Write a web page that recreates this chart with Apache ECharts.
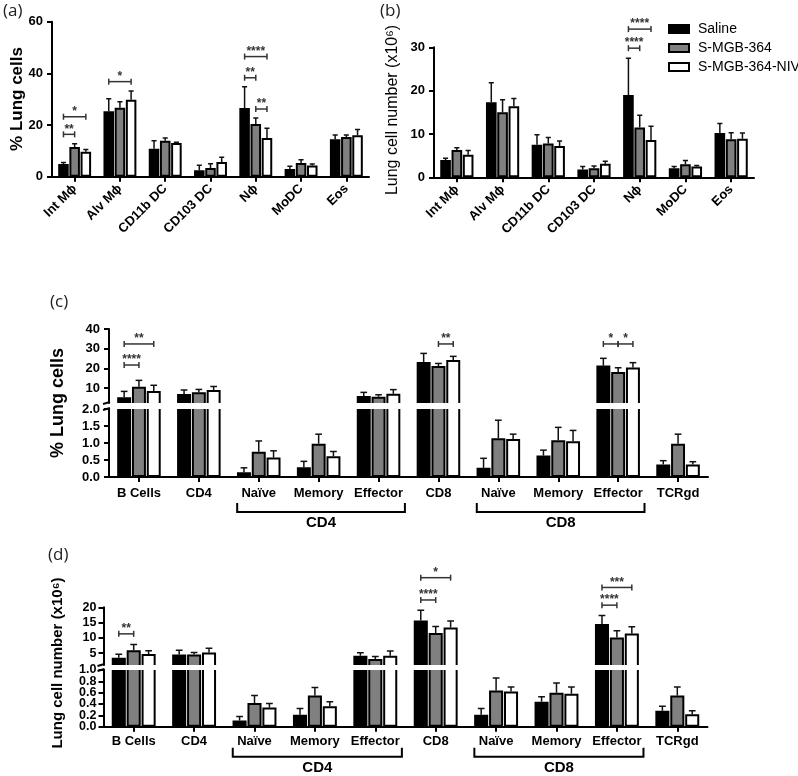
<!DOCTYPE html>
<html>
<head>
<meta charset="utf-8">
<script src="https://cdn.jsdelivr.net/npm/echarts@6/dist/echarts.min.js"></script>
<style>
  html, body { margin: 0; padding: 0; background: #fff; }
  #chart { width: 798px; height: 776px; }
</style>
</head>
<body>
<div id="chart"></div>
<script>
// groups
const groups = ['Saline', 'S-MGB-364', 'S-MGB-364-NIV']

// (a) / (b) myeloid cells
const myeloidCats = ['Int Mϕ', 'Alv Mϕ', 'CD11b DC', 'CD103 DC', 'Nϕ', 'MoDC', 'Eos']
const pctSaline = [4.9, 25.3, 10.8, 2.5, 26.6, 3.0, 14.5]
const pctSalineSd = [0.6, 4.9, 3.1, 1.9, 8.2, 1.0, 1.6]
const pctMgb = [11.5, 26.7, 13.9, 3.4, 20.4, 5.3, 15.4]
const pctMgbSd = [1.3, 2.3, 1.1, 1.6, 2.3, 1.3, 0.7]
const pctNiv = [9.7, 29.8, 13.0, 5.7, 15.0, 4.3, 16.0]
const pctNivSd = [0.8, 3.4, 0.3, 1.8, 3.8, 0.6, 2.3]

const numSaline = [4.0, 17.3, 7.5, 1.8, 19.0, 2.1, 10.2]
const numSalineSd = [0.4, 4.5, 2.3, 0.7, 8.5, 0.4, 2.2]
const numMgb = [6.3, 15.0, 7.8, 2.1, 11.5, 3.0, 8.8]
const numMgbSd = [0.5, 2.9, 1.4, 0.5, 2.8, 0.9, 1.5]
const numNiv = [5.2, 16.4, 7.2, 3.1, 8.6, 2.5, 8.9]
const numNivSd = [1.0, 1.8, 1.2, 0.6, 3.2, 0.2, 1.3]

// (c) / (d) lymphoid cells
const lymphCats = ['B Cells', 'CD4', 'CD4 Naïve', 'CD4 Memory', 'CD4 Effector', 'CD8', 'CD8 Naïve', 'CD8 Memory', 'CD8 Effector', 'TCRgd']
const lymphTickLabels = ['B Cells', 'CD4', 'Naïve', 'Memory', 'Effector', 'CD8', 'Naïve', 'Memory', 'Effector', 'TCRgd']
const subsetGroups = [[2, 4], [6, 8]]
const subsetLabels = ['CD4', 'CD8']

const lPctSaline = [5.3, 7.0, 0.14, 0.29, 5.9, 23.2, 0.27, 0.63, 21.4, 0.37]
const lPctSalineSd = [3.0, 2.0, 0.13, 0.17, 1.9, 4.4, 0.28, 0.16, 3.7, 0.11]
const lPctMgb = [10.7, 7.8, 0.74, 0.98, 5.6, 21.2, 1.14, 1.08, 18.1, 0.98]
const lPctMgbSd = [3.2, 1.5, 0.32, 0.28, 1.0, 1.3, 0.53, 0.38, 2.2, 0.28]
const lPctNiv = [8.5, 9.0, 0.57, 0.61, 7.1, 24.2, 1.12, 1.05, 20.5, 0.37]
const lPctNivSd = [2.9, 1.8, 0.2, 0.14, 2.1, 1.9, 0.14, 0.32, 2.4, 0.08]

const lNumSaline = [3.5, 4.5, 0.11, 0.21, 4.1, 15.7, 0.21, 0.44, 14.5, 0.28]
const lNumSalineSd = [1.1, 1.4, 0.07, 0.11, 1.0, 3.3, 0.11, 0.09, 2.8, 0.08]
const lNumMgb = [5.9, 4.5, 0.42, 0.55, 3.1, 11.6, 0.64, 0.60, 10.1, 0.55]
const lNumMgbSd = [1.9, 0.7, 0.13, 0.14, 0.8, 2.1, 0.22, 0.17, 2.2, 0.15]
const lNumNiv = [4.7, 5.2, 0.34, 0.36, 4.1, 13.4, 0.62, 0.58, 11.4, 0.22]
const lNumNivSd = [1.1, 1.4, 0.07, 0.08, 1.6, 2.1, 0.08, 0.12, 2.2, 0.06]

// axis tick values of the broken axes
const cUpperTicks = [10, 20, 30, 40]
const cLowerTicks = [0, 0.5, 1.0, 1.5, 2.0]
const dUpperTicks = [5, 10, 15, 20]
const dLowerTicks = [0, 0.2, 0.4, 0.6, 0.8, 1.0]

// significance brackets: [category, bracket height, from group, to group]
const sigA = [[0, 16.4, 0, 1], [0, 23.2, 0, 2], [1, 36.8, 0, 2], [4, 46.5, 0, 2], [4, 38.3, 0, 1], [4, 26.2, 1, 2]]
const sigALabels = ['**', '*', '*', '****', '**', '**']
const sigB = [[4, 34.2, 0, 2], [4, 29.8, 0, 1]]
const sigBLabels = ['****', '****']
const sigC = [[0, 32.4, 0, 2], [0, 21.7, 0, 1], [5, 32.4, 1, 2], [8, 32.4, 0, 1], [8, 32.4, 1, 2]]
const sigCLabels = ['**', '****', '**', '*', '*']
const sigD = [[0, 11.3, 0, 1], [5, 29.7, 0, 2], [5, 22.4, 0, 1], [8, 26.5, 0, 2], [8, 20.7, 0, 1]]
const sigDLabels = ['**', '*', '****', '***', '****']

const FONT = '"Liberation Sans", Arial, sans-serif'
const fills = ['#000000', '#808080', '#ffffff']

function barRender(g) {
  return function (params, api) {
    const band = api.size([1, 0])[0]
    const w = band * 0.233
    const step = band * 0.247
    const cat = api.value(0)
    const base = api.coord([cat, 0])
    const cx = base[0] + (g - 1) * step
    const top = api.coord([cat, api.value(1)])[1]
    const errTop = api.coord([cat, api.value(1) + api.value(2)])[1]
    const cap = w * 0.24
    const err = { stroke: '#111', lineWidth: 1.5 }
    return {
      type: 'group',
      children: [
        { type: 'line', shape: { x1: cx, y1: top, x2: cx, y2: errTop }, style: err },
        { type: 'line', shape: { x1: cx - cap, y1: errTop, x2: cx + cap, y2: errTop }, style: err },
        {
          type: 'rect',
          shape: { x: cx - w / 2 + 1, y: top + 1, width: w - 2, height: Math.max(base[1] - top - 2, 0) },
          style: { fill: fills[g], stroke: '#000', lineWidth: 2 }
        }
      ]
    }
  }
}

function sigRender(labels) {
  return function (params, api) {
    const band = api.size([1, 0])[0]
    const step = band * 0.247
    const c = api.coord([api.value(0), api.value(1)])
    const x1 = c[0] + (api.value(2) - 1) * step
    const x2 = c[0] + (api.value(3) - 1) * step
    const y = c[1]
    const st = { stroke: '#333', lineWidth: 1.5 }
    return {
      type: 'group',
      children: [
        { type: 'line', shape: { x1: x1, y1: y, x2: x2, y2: y }, style: st },
        { type: 'line', shape: { x1: x1, y1: y - 3, x2: x1, y2: y + 3 }, style: st },
        { type: 'line', shape: { x1: x2, y1: y - 3, x2: x2, y2: y + 3 }, style: st },
        {
          type: 'text', x: (x1 + x2) / 2, y: y - 5,
          style: { text: labels[params.dataIndex], textAlign: 'center', textVerticalAlign: 'middle', fill: '#333', font: 'bold 12px ' + FONT }
        }
      ]
    }
  }
}

function subsetRender(lineOff, textOff) {
  return function (params, api) {
    const band = api.size([1, 0])[0]
    const a = api.coord([api.value(0), 0])
    const b = api.coord([api.value(1), 0])
    const x1 = a[0] - band * 0.36
    const x2 = b[0] + band * 0.44
    const y = a[1] + lineOff
    const st = { stroke: '#000', lineWidth: 2 }
    return {
      type: 'group',
      children: [
        { type: 'polyline', shape: { points: [[x1, y - 9], [x1, y], [x2, y], [x2, y - 9]] }, style: { ...st, fill: null } },
        {
          type: 'text', x: (x1 + x2) / 2, y: a[1] + textOff,
          style: { text: subsetLabels[params.dataIndex], textAlign: 'center', textVerticalAlign: 'middle', fill: '#000', font: 'bold 15px ' + FONT }
        }
      ]
    }
  }
}

function barSeries(axisIdx, vals, sds, g) {
  return {
    type: 'custom',
    name: groups[g],
    xAxisIndex: axisIdx,
    yAxisIndex: axisIdx,
    clip: true,
    renderItem: barRender(g),
    encode: { x: 0, y: 1 },
    itemStyle: { color: fills[g], borderColor: '#000', borderWidth: 2 },
    data: vals.map((v, i) => [i, v, sds[i]]),
    silent: true,
    z: 3
  }
}

function sigSeries(axisIdx, rows, labels) {
  return {
    type: 'custom',
    name: 'sig' + axisIdx,
    xAxisIndex: axisIdx,
    yAxisIndex: axisIdx,
    clip: false,
    renderItem: sigRender(labels),
    encode: { x: 0, y: 1 },
    data: rows,
    silent: true,
    z: 4
  }
}

const axisLineStyle = { show: true, lineStyle: { color: '#000', width: 2 } }
const axisTickStyle = { show: true, inside: false, length: 5, lineStyle: { color: '#000', width: 2 } }
const labelStyle = { color: '#000', fontFamily: FONT, fontWeight: 'bold', fontSize: 13 }

function catAxis(gridIndex, cats, show, label) {
  return {
    type: 'category',
    gridIndex: gridIndex,
    data: cats,
    show: show,
    axisLine: axisLineStyle,
    axisTick: { ...axisTickStyle, alignWithLabel: true, interval: 0 },
    axisLabel: { ...labelStyle, interval: 0, ...label },
    splitLine: { show: false }
  }
}

function valAxis(gridIndex, min, max, extra) {
  return {
    type: 'value',
    gridIndex: gridIndex,
    position: 'left',
    offset: 0,
    min: min,
    max: max,
    axisLine: { ...axisLineStyle, show: extra.line !== false },
    axisTick: { ...axisTickStyle, ...(extra.tick || {}) },
    axisLabel: { ...labelStyle, margin: 9, ...(extra.label || {}) },
    splitLine: { show: false },
    interval: extra.interval
  }
}

function customTicks(values, label) {
  return { tick: { customValues: values }, label: { customValues: values, ...label } }
}

const grids = [
  { left: 52, top: 21.7, width: 317, height: 155 },
  { left: 434, top: 47.3, width: 320, height: 130 },
  { left: 109, top: 329, width: 599, height: 74 },
  { left: 109, top: 409, width: 599, height: 68 },
  { left: 103.5, top: 607.3, width: 604, height: 57.7 },
  { left: 103.5, top: 670, width: 604, height: 56.7 }
].map(g => ({ ...g, containLabel: false, outerBoundsMode: 'none' }))

const rotLabel = { rotate: 45, fontSize: 13, margin: 10 }
const lymphLabel = { formatter: (v, i) => lymphTickLabels[i], fontSize: 13 }
const oneDecimal = v => v.toFixed(1)
const dSmall = { formatter: oneDecimal, margin: 7, fontSize: 12.5 }

const xAxes = [
  catAxis(0, myeloidCats, true, rotLabel),
  catAxis(1, myeloidCats, true, rotLabel),
  catAxis(2, lymphCats, false, {}),
  catAxis(3, lymphCats, true, { ...lymphLabel, margin: 10 }),
  catAxis(4, lymphCats, false, {}),
  catAxis(5, lymphCats, true, { ...lymphLabel, margin: 8 })
]

// the (d) lower segment is tight, so its labels are split over two axes on the same side
const yAxes = [
  valAxis(0, 0, 60, { interval: 20 }),
  valAxis(1, 0, 30, { interval: 10 }),
  valAxis(2, 2.4, 40, customTicks(cUpperTicks, {})),
  valAxis(3, 0, 2, customTicks(cLowerTicks, { formatter: oneDecimal })),
  valAxis(4, 1.1, 20, customTicks(dUpperTicks, { margin: 7, fontSize: 12.5 })),
  valAxis(5, 0, 1, customTicks(dLowerTicks.filter((v, i) => i % 2 === 0), dSmall)),
  valAxis(5, 0, 1, { line: false, ...customTicks(dLowerTicks.filter((v, i) => i % 2 === 1), dSmall) })
]

const series = [
  barSeries(0, pctSaline, pctSalineSd, 0),
  barSeries(0, pctMgb, pctMgbSd, 1),
  barSeries(0, pctNiv, pctNivSd, 2),
  sigSeries(0, sigA, sigALabels),
  barSeries(1, numSaline, numSalineSd, 0),
  barSeries(1, numMgb, numMgbSd, 1),
  barSeries(1, numNiv, numNivSd, 2),
  sigSeries(1, sigB, sigBLabels)
]
// broken axes: same values drawn on the upper and lower segment, clipped by each grid
;[2, 3].forEach(ax => {
  series.push(barSeries(ax, lPctSaline, lPctSalineSd, 0))
  series.push(barSeries(ax, lPctMgb, lPctMgbSd, 1))
  series.push(barSeries(ax, lPctNiv, lPctNivSd, 2))
})
;[4, 5].forEach(ax => {
  series.push(barSeries(ax, lNumSaline, lNumSalineSd, 0))
  series.push(barSeries(ax, lNumMgb, lNumMgbSd, 1))
  series.push(barSeries(ax, lNumNiv, lNumNivSd, 2))
})
series.push(sigSeries(2, sigC, sigCLabels))
series.push(sigSeries(4, sigD, sigDLabels))
series.push({ type: 'custom', name: 'subC', xAxisIndex: 3, yAxisIndex: 3, clip: false, renderItem: subsetRender(35, 46), data: subsetGroups, silent: true })
series.push({ type: 'custom', name: 'subD', xAxisIndex: 5, yAxisIndex: 5, clip: false, renderItem: subsetRender(30, 41), data: subsetGroups, silent: true })

function yTitle(text, x, y, font) {
  return { type: 'text', x: x, y: y, rotation: Math.PI / 2, style: { text: text, font: font, fill: '#000', textAlign: 'center', textVerticalAlign: 'middle' } }
}
function panelTag(text, x, y) {
  return { type: 'text', x: x, y: y, style: { text: text, font: '17px "Open Sans", sans-serif', fill: '#222', textAlign: 'left', textVerticalAlign: 'middle' } }
}
function breakMarks(x, yUp, yLow) {
  const st = { stroke: '#000', lineWidth: 2 }
  return [
    { type: 'line', shape: { x1: x - 6, y1: yUp + 1, x2: x + 1, y2: yUp - 1 }, style: st },
    { type: 'line', shape: { x1: x - 6, y1: yLow + 1, x2: x + 1, y2: yLow - 1 }, style: st }
  ]
}

const chart = echarts.init(document.getElementById('chart'), null, { renderer: 'canvas' })
chart.setOption({
  animation: false,
  backgroundColor: '#fff',
  grid: grids,
  xAxis: xAxes,
  yAxis: yAxes,
  legend: {
    orient: 'vertical',
    left: 663,
    top: 17,
    icon: 'rect',
    itemWidth: 20,
    itemHeight: 8,
    itemGap: 5,
    selectedMode: false,
    textStyle: { fontFamily: FONT, fontSize: 14, color: '#000', padding: [0, 0, 0, 4] },
    data: groups.map((g, i) => ({ name: g, itemStyle: { color: fills[i], borderColor: '#000', borderWidth: 2 } }))
  },
  graphic: [
    panelTag('(a)', 3, 11),
    panelTag('(b)', 380, 11),
    panelTag('(c)', 50, 302),
    panelTag('(d)', 48, 555),
    yTitle('% Lung cells', 17, 99, 'bold 17px ' + FONT),
    yTitle('Lung cell number (x10⁶)', 393, 110, '16px ' + FONT),
    yTitle('% Lung cells', 58, 403, 'bold 18px ' + FONT),
    yTitle('Lung cell number (x10⁶)', 58, 663, 'bold 15px ' + FONT),
    ...breakMarks(109, 403, 409),
    ...breakMarks(103.5, 665, 670)
  ],
  series: series
})
</script>
</body>
</html>
